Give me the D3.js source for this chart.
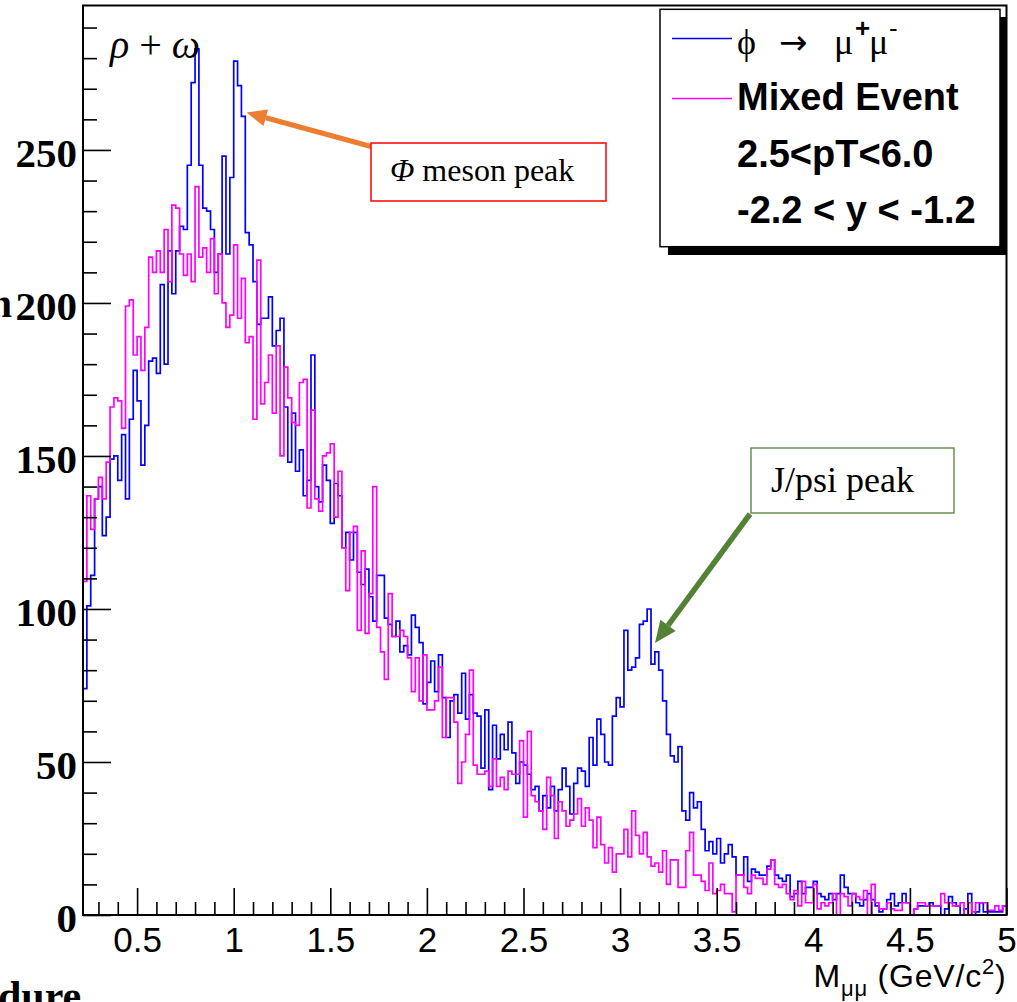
<!DOCTYPE html>
<html><head><meta charset="utf-8">
<script src="https://cdn.jsdelivr.net/npm/d3@7/dist/d3.min.js"></script>
<style>body{margin:0;background:#fff;} svg{display:block;}</style>
</head><body>
<svg id="c" width="1017" height="1002"></svg>
<script>
// ---------------- data ----------------
const histStart = 0.22;      // GeV/c^2, low edge of first bin
const binWidth = 0.02;       // GeV/c^2
const xDomain = [0.22, 5.0];
const yDomain = [0, 297.2];

const phiSignal = [
 74,101,111,136,140,124,130,149,150,142,
 157,136,162,178,168,147,160,181,182,177,
 206,180,217,203,217,225,224,245,272,283,
 245,231,230,224,210,216,248,216,241,279,
 271,261,223,219,207,193,195,195,202,186,
 191,195,166,148,164,145,152,137,142,183,
 140,135,147,142,128,141,137,120,125,116,
 125,112,108,113,104,96,111,111,97,95,
 91,96,86,88,85,98,94,89,69,76,
 83,73,85,71,58,70,72,66,79,64,
 72,66,65,48,67,41,62,51,59,54,
 63,53,43,50,49,46,41,42,34,39,
 35,42,34,41,48,42,33,43,48,47,
 42,58,49,64,59,50,49,65,71,68,
 93,80,81,84,95,96,100,82,86,80,
 70,59,52,50,55,34,31,40,35,37,
 28,21,24,20,25,17,20,23,19,13,
 13,19,11,15,14,13,13,16,18,13,
 12,11,13,6,7,11,7,9,9,11,
 7,6,5,7,5,7,13,9,7,7,
 4,3,5,7,5,3,1,2,5,7,
 3,4,7,4,0,2,3,3,3,4,
 3,3,0,2,6,4,3,0,2,7,
 0,1,4,1,1,1,1,1,3
];

const mixedEvent = [
 109,137,126,136,143,136,148,166,169,168,
 159,199,201,183,189,178,192,215,210,217,
 210,224,207,232,231,216,209,216,207,238,
 215,218,210,221,203,216,200,192,196,219,
 195,208,187,189,162,214,167,174,183,164,
 186,150,179,169,161,160,174,175,133,165,
 136,132,150,151,154,130,145,120,106,125,
 127,93,119,92,105,140,94,86,77,105,
 91,91,93,91,84,73,84,70,85,67,
 67,70,81,58,71,71,63,43,50,59,
 80,49,46,46,47,42,51,42,45,41,
 47,46,46,57,32,60,39,37,34,28,
 45,39,25,37,34,29,31,33,38,29,
 35,31,22,32,23,17,22,14,20,20,
 28,19,34,26,20,27,19,16,17,14,
 21,10,18,18,9,9,21,27,13,13,
 11,8,17,7,8,10,7,7,1,13,
 13,9,7,13,12,12,10,15,18,10,
 9,10,7,5,8,3,11,4,4,10,
 2,4,3,4,7,0,7,6,3,7,
 6,5,8,0,10,4,2,2,4,2,
 1.5,1.5,4,4,0,2,4,4,3,3,
 3,3,7,4,4,3,3,4,0,4,
 1,4,4,4,1.5,1.5,3,1.5,3
];

const yMajorTicks = [0, 50, 100, 150, 200, 250];
const yMinorTicks = [10,20,30,40,60,70,80,90,110,120,130,140,160,170,180,190,210,220,230,240,260,270,280,290];
const xMajorTicks = [0.5, 1, 1.5, 2, 2.5, 3, 3.5, 4, 4.5, 5];
const xTickLabels = ["0.5","1","1.5","2","2.5","3","3.5","4","4.5","5"];
const xMinorTicks = [0.3,0.4,0.6,0.7,0.8,0.9,1.1,1.2,1.3,1.4,1.6,1.7,1.8,1.9,2.1,2.2,2.3,2.4,2.6,2.7,2.8,2.9,3.1,3.2,3.3,3.4,3.6,3.7,3.8,3.9,4.1,4.2,4.3,4.4,4.6,4.7,4.8,4.9];
const seriesNames = ["phi", "Mixed Event"];
const seriesColors = ["#0000ff", "#ff00ff"];
const legendExtra = ["2.5<pT<6.0", "-2.2 < y < -1.2"];

// ---------------- drawing ----------------
const SERIF = "'Liberation Serif','Times New Roman',serif";
const SANS = "'Liberation Sans',Arial,Helvetica,sans-serif";
const svg = d3.select("#c");
const m = {left: 83, right: 1006.5, top: 5.5, bottom: 915};

const x = d3.scaleLinear().domain(xDomain).range([m.left, m.right]);
const y = d3.scaleLinear().domain(yDomain).range([m.bottom, m.top]);

svg.append("rect").attr("width",1017).attr("height",1002).attr("fill","#fff");

svg.append("defs").append("clipPath").attr("id","plotclip")
  .append("rect").attr("x", m.left).attr("y", m.top)
  .attr("width", m.right - m.left).attr("height", m.bottom - m.top);

// histograms
function stepPoints(vals){
  const pts = vals.map((v,i) => [histStart + i*binWidth, v]);
  pts.push([histStart + vals.length*binWidth, vals[vals.length-1]]);
  return pts;
}
const line = d3.line().x(d => x(d[0])).y(d => y(d[1])).curve(d3.curveStepAfter);
const gh = svg.append("g").attr("clip-path","url(#plotclip)");
[phiSignal, mixedEvent].forEach((vals, k) => {
  gh.append("path").attr("d", line(stepPoints(vals)))
    .attr("fill","none").attr("stroke", seriesColors[k])
    .attr("stroke-width", 1.7).attr("stroke-linejoin","miter");
});

// axes
const axStroke = "#000";
const gxMinor = svg.append("g").attr("transform",`translate(0,${m.bottom})`)
  .call(d3.axisBottom(x).tickValues(xMinorTicks).tickSize(-13).tickFormat(""));
const gxMajor = svg.append("g").attr("transform",`translate(0,${m.bottom})`)
  .call(d3.axisBottom(x).tickValues(xMajorTicks).tickSize(-27).tickPadding(12)
        .tickFormat((d,i) => xTickLabels[i]));
const gyMinor = svg.append("g").attr("transform",`translate(${m.left},0)`)
  .call(d3.axisLeft(y).tickValues(yMinorTicks).tickSize(-14).tickFormat(""));
const gyMajor = svg.append("g").attr("transform",`translate(${m.left},0)`)
  .call(d3.axisLeft(y).tickValues(yMajorTicks).tickSize(-28).tickPadding(6)
        .tickFormat(d3.format("d")));
[gxMinor,gxMajor,gyMinor,gyMajor].forEach(g => {
  g.select(".domain").remove();
  g.selectAll(".tick line").attr("stroke", axStroke).attr("stroke-width", 1.6);
});
gxMajor.selectAll(".tick text").attr("font-family", SANS).attr("font-size", 35)
  .attr("fill","#000").attr("dy","0.71em");
gyMajor.selectAll(".tick text").attr("font-family", SERIF).attr("font-size", 41)
  .attr("font-weight","bold").attr("fill","#000").attr("dy","0.4em");

// frame
svg.append("rect").attr("x", m.left).attr("y", m.top)
  .attr("width", m.right - m.left).attr("height", m.bottom - m.top)
  .attr("fill","none").attr("stroke","#000").attr("stroke-width", 2);

// x-axis title
const xt = svg.append("text").attr("x", m.right).attr("y", 987)
  .attr("text-anchor","end").attr("font-family", SANS).attr("font-size", 32)
  .attr("letter-spacing", 0.8).attr("fill","#000");
xt.append("tspan").text("M");
xt.append("tspan").attr("font-size", 22).attr("dy", 9).text("\u03bc\u03bc");
xt.append("tspan").attr("dy", -9).text(" (GeV/c");
xt.append("tspan").attr("font-size", 22).attr("dy", -13).text("2");
xt.append("tspan").attr("dy", 13).text(")");

// clipped fragments of surrounding text
svg.append("text").attr("x", 12).attr("y", 317).attr("text-anchor","end")
  .attr("font-family", SERIF).attr("font-weight","bold").attr("font-size", 40).text("n");
svg.append("text").attr("x", -2).attr("y", 1010)
  .attr("font-family", SERIF).attr("font-weight","bold").attr("font-size", 42).text("dure");

// rho + omega label
const ro = svg.append("text").attr("x", 110).attr("y", 58).attr("font-family", SERIF)
  .attr("font-size", 40).attr("fill","#000");
ro.append("tspan").attr("font-style","italic").text("\u03c1");
ro.append("tspan").text(" + ");
ro.append("tspan").attr("font-style","italic").text("\u03c9");

// legend
svg.append("rect").attr("x", 668).attr("y", 17).attr("width", 338.5).attr("height", 238).attr("fill","#000");
svg.append("rect").attr("x", 660).attr("y", 9.3).attr("width", 340).attr("height", 237.4)
  .attr("fill","#fff").attr("stroke","#000").attr("stroke-width", 1.5);
const legY = [38.5, 98.5];
seriesColors.forEach((c,i) => {
  svg.append("line").attr("x1", 672).attr("x2", 732).attr("y1", legY[i]).attr("y2", legY[i])
    .attr("stroke", c).attr("stroke-width", 1.5);
});
const l1 = svg.append("text").attr("y", 54).attr("font-family", SERIF).attr("font-size", 36).attr("fill","#000");
l1.append("tspan").attr("x", 737).text("\u03d5");
l1.append("tspan").attr("x", 779).attr("font-family","'DejaVu Sans',sans-serif").attr("font-size", 34).text("\u2192");
l1.append("tspan").attr("x", 834).text("\u03bc");
l1.append("tspan").attr("x", 855).attr("dy", -17).attr("font-size", 26).attr("font-weight","bold").attr("font-family", SANS).text("+");
l1.append("tspan").attr("x", 869).attr("dy", 17).text("\u03bc");
l1.append("tspan").attr("x", 889).attr("dy", -17).attr("font-size", 26).attr("font-family", SANS).text("-");
svg.append("text").attr("x", 737).attr("y", 110).attr("font-family", SANS).attr("font-weight","bold")
  .attr("font-size", 38).text(seriesNames[1]);
legendExtra.forEach((t,i) => {
  svg.append("text").attr("x", 737).attr("y", [167, 223][i]).attr("font-family", SANS)
    .attr("font-weight","bold").attr("font-size", 38).text(t);
});

// annotations
function arrow(x1,y1,x2,y2,color,w,headLen,headW){
  const ang = Math.atan2(y2-y1, x2-x1);
  const bx = x2 - headLen*Math.cos(ang), by = y2 - headLen*Math.sin(ang);
  svg.append("line").attr("x1",x1).attr("y1",y1).attr("x2",bx).attr("y2",by)
    .attr("stroke",color).attr("stroke-width",w);
  const px = -Math.sin(ang)*headW/2, py = Math.cos(ang)*headW/2;
  svg.append("path").attr("d",`M${x2},${y2}L${bx+px},${by+py}L${bx-px},${by-py}Z`).attr("fill",color);
}
arrow(371, 146.5, 246.5, 112.5, "#ed7d31", 5, 20, 17);
svg.append("rect").attr("x", 371).attr("y", 143).attr("width", 235).attr("height", 58)
  .attr("fill","#fff").attr("stroke","#ff0000").attr("stroke-width", 1.5);
const t1 = svg.append("text").attr("x", 390).attr("y", 181).attr("font-family", SERIF).attr("font-size", 32);
t1.append("tspan").attr("font-style","italic").text("\u03a6");
t1.append("tspan").text(" meson peak");

arrow(750, 514, 655, 643, "#548235", 5.5, 22, 19);
svg.append("rect").attr("x", 751).attr("y", 448).attr("width", 203).attr("height", 65)
  .attr("fill","#fff").attr("stroke","#548235").attr("stroke-width", 1.3);
svg.append("text").attr("x", 771).attr("y", 492).attr("font-family", SERIF).attr("font-size", 36).text("J/psi peak");
</script>
</body></html>
